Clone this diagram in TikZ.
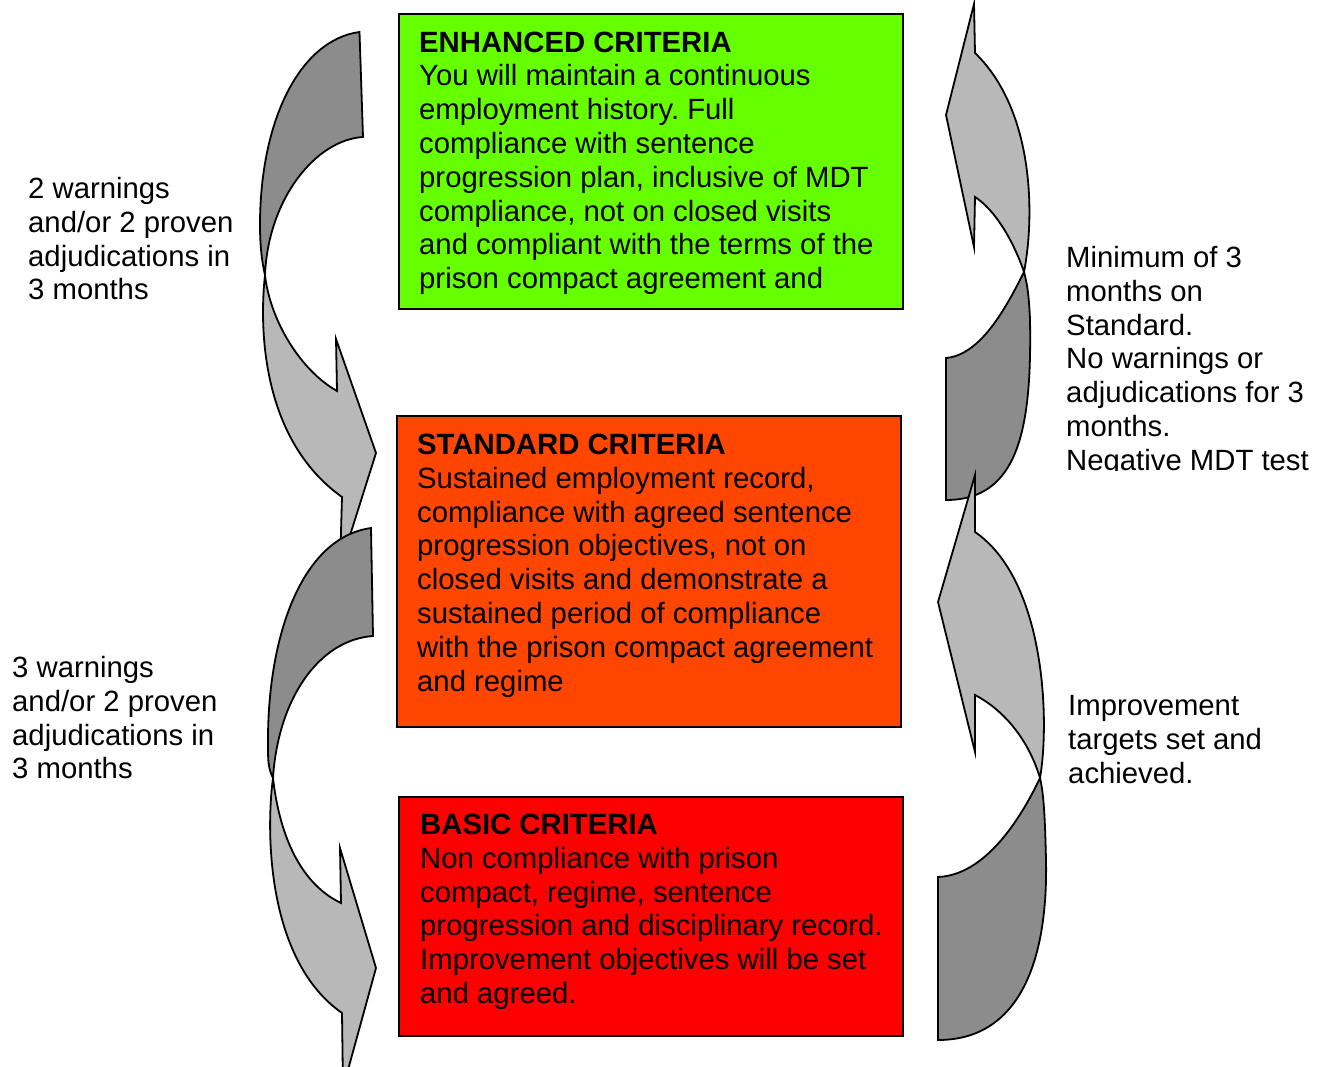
\documentclass[tikz,border=0pt]{standalone}
\usepackage{fontspec}
\setmainfont{Liberation Sans}
\frenchspacing
\definecolor{enhgreen}{RGB}{102,255,0}
\definecolor{stdorange}{RGB}{255,70,0}
\definecolor{basicred}{RGB}{255,0,0}
\definecolor{lightband}{RGB}{184,184,184}
\definecolor{darkband}{RGB}{140,140,140}
\begin{document}
\begin{tikzpicture}[x=1pt,y=-1pt,
  crit/.style={draw=black, line width=1.3pt, anchor=north west, inner sep=0pt, outer sep=0pt},
  % multi-line text nodes: the base anchor sits on the last line
  txt/.style={anchor=base west, align=left, inner sep=0pt, font=\fontsize{29.3}{33.8}\selectfont},
  bandlight/.style={draw=black, line width=1.8pt, fill=lightband, line join=miter},
  banddark/.style={draw=black, line width=1.8pt, fill=darkband, line join=miter},
]
\useasboundingbox (0,0) rectangle (1322,1067);
\clip (0,0) rectangle (1322,1067);

% criteria boxes
\node[crit, fill=enhgreen, minimum width=504pt, minimum height=295pt] (enh) at (399,14) {};
\node[crit, fill=stdorange, minimum width=504pt, minimum height=311pt] (std) at (397,416) {};
\node[crit, fill=basicred, minimum width=504pt, minimum height=239pt] (bas) at (399,797) {};

\node[txt] (enhtxt) at (419,288.6) {\textbf{ENHANCED CRITERIA}\\You will maintain a continuous\\employment history. Full\\compliance with sentence\\progression plan, inclusive of MDT\\compliance, not on closed visits\\and compliant with the terms of the\\prison compact agreement and};
\node[txt] (stdtxt) at (417,691.1) {\textbf{STANDARD CRITERIA}\\Sustained employment record,\\compliance with agreed sentence\\progression objectives, not on\\closed visits and demonstrate a\\sustained period of compliance\\with the prison compact agreement\\and regime};
\node[txt] (bastxt) at (420,1003.5) {\textbf{BASIC CRITERIA}\\Non compliance with prison\\compact, regime, sentence\\progression and disciplinary record.\\Improvement objectives will be set\\and agreed.};

% side labels
\node[txt] (down1) at (28,299.9) {2 warnings\\and/or 2 proven\\adjudications in\\3 months};
\node[txt] (down2) at (12,778.9) {3 warnings\\and/or 2 proven\\adjudications in\\3 months};
\begin{scope}
  \clip (1050,0) rectangle (1322,470);
  \node[txt] (up1) at (1066,470.3) {Minimum of 3\\months on\\Standard.\\No warnings or\\adjudications for 3\\months.\\Negative MDT test};
\end{scope}
\node[txt] (up2) at (1068,783.1) {Improvement\\targets set and\\achieved.};

% upper right curved arrow (Standard -> Enhanced)
\path[bandlight] (974,4) -- (946,115) -- (974,247) -- (975,197)
  .. controls (995,210) and (1013,240) .. (1024,272)
  .. controls (1035,215) and (1034,110) .. (975,53)
  -- cycle;
\path[banddark] (946,358) -- (946,500)
  .. controls (1018,500) and (1032,430) .. (1030,320)
  .. controls (1029,295) and (1027,283) .. (1024,272)
  .. controls (1005,310) and (980,355) .. (946,358)
  -- cycle;

% lower right curved arrow (Basic -> Standard)
\path[bandlight] (975,475) -- (938,602) -- (975,752) -- (975,695)
  .. controls (1000,708) and (1027,735) .. (1040,778)
  .. controls (1050,720) and (1045,580) .. (975,532)
  -- cycle;
\path[banddark] (938,877) -- (938,1040)
  .. controls (1020,1040) and (1048,960) .. (1046,860)
  .. controls (1045,820) and (1044,795) .. (1040,778)
  .. controls (1020,820) and (985,875) .. (938,877)
  -- cycle;

% upper left curved arrow (Enhanced -> Standard)
\path[banddark] (359.5,32) -- (363,137)
  .. controls (315,140) and (268,200) .. (265,275)
  .. controls (261,258) and (260,240) .. (260,225)
  .. controls (260,120) and (300,40) .. (359.5,32)
  -- cycle;
\path[bandlight] (265,275)
  .. controls (259,330) and (262,440) .. (342,497)
  -- (340,567) -- (376,453) -- (336,339) -- (337,391)
  .. controls (300,370) and (270,320) .. (265,275)
  -- cycle;

% lower left curved arrow (Standard -> Basic)
\path[banddark] (371,528) -- (373,636)
  .. controls (318,640) and (278,700) .. (273,778)
  .. controls (268,768) and (268,760) .. (268,745)
  .. controls (267,640) and (300,538) .. (371,528)
  -- cycle;
\path[bandlight] (273,778)
  .. controls (266,830) and (266,960) .. (342,1013)
  -- (343,1088) -- (376,968) -- (340,848) -- (341,903)
  .. controls (303,885) and (280,840) .. (273,778)
  -- cycle;
\end{tikzpicture}
\end{document}
